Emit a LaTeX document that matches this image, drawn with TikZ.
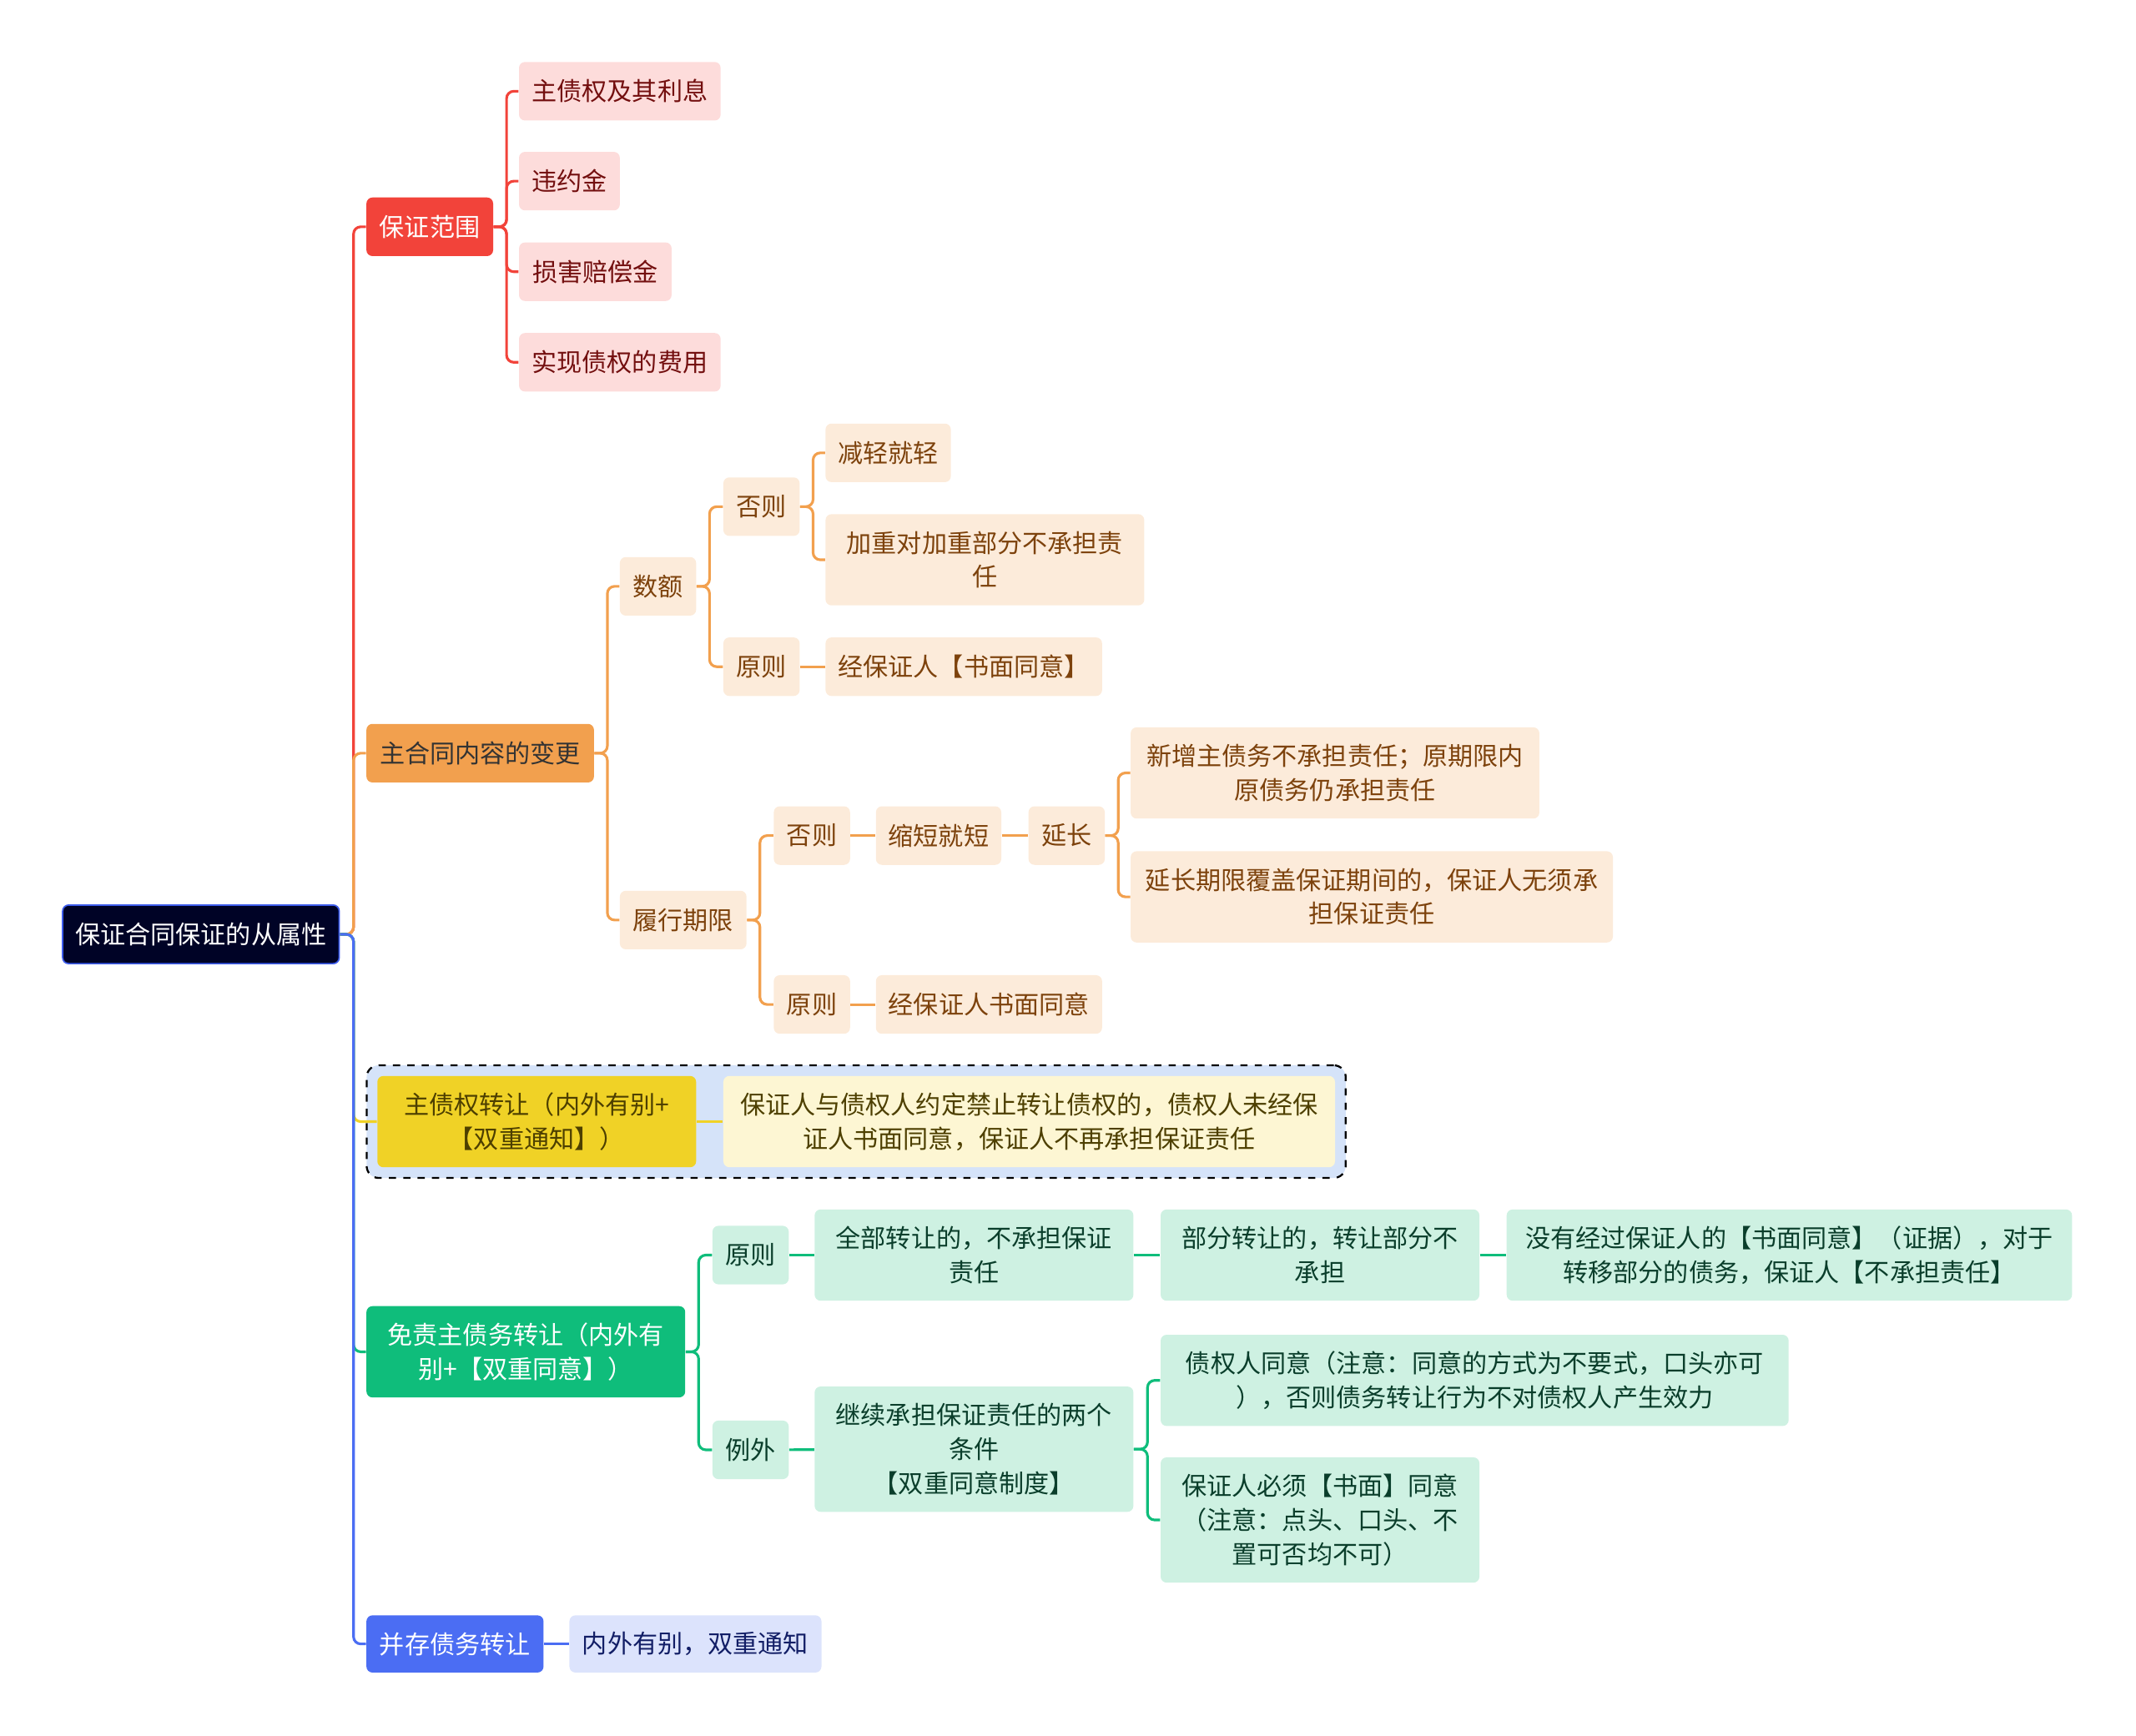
\documentclass[tikz,border=0pt]{standalone}
\usepackage{fontspec}
\setmainfont{Noto Sans CJK SC}
\definecolor{MapNavy}{HTML}{000326}
\definecolor{MapEdge}{HTML}{3D5CEB}
\definecolor{MapRed}{HTML}{F2433A}
\definecolor{MapRedLight}{HTML}{FDDCDB}
\definecolor{MapRedText}{HTML}{730F0F}
\definecolor{MapOrange}{HTML}{F2A04E}
\definecolor{MapOrangeLight}{HTML}{FCEBDA}
\definecolor{MapOrangeText}{HTML}{7D420C}
\definecolor{MapYellow}{HTML}{F0D226}
\definecolor{MapYellowLight}{HTML}{FDF6D3}
\definecolor{MapYellowText}{HTML}{4D3F00}
\definecolor{MapGroup}{HTML}{D5E3F9}
\definecolor{MapGreen}{HTML}{0FBD7B}
\definecolor{MapGreenLight}{HTML}{CEF1E2}
\definecolor{MapGreenText}{HTML}{0A3E2B}
\definecolor{MapBlue}{HTML}{4B6DF3}
\definecolor{MapBlueLight}{HTML}{DCE3FC}
\definecolor{MapBlueText}{HTML}{121E66}
\usetikzlibrary{positioning, calc, fit, backgrounds}
\tikzset{
    box/.style={
        fill=#1,
        rounded corners=2.5pt,
        minimum height=0.86cm,
        inner sep=2pt,
        align=center,
        font=\fontsize{10.5pt}{14.2pt}\selectfont
    },
    box/.default=MapRedLight,
    rootbox/.style={
        box=MapNavy,
        draw=MapEdge,
        line width=0.6pt,
        text=white
    },
    redsub/.style={box=MapRedLight, text=MapRedText},
    orangesub/.style={box=MapOrangeLight, text=MapOrangeText},
    greensub/.style={box=MapGreenLight, text=MapGreenText},
    tall/.style={minimum height=1.34cm},
    taller/.style={minimum height=1.84cm},
    link/.style={
        line width=1.1pt,
        rounded corners=3pt,
        #1
    },
    group/.style={
        draw=black,
        dashed,
        line width=0.8pt,
        fill=MapGroup,
        rounded corners=5pt,
        inner sep=0.15cm
    }
}
\begin{document}
\begin{tikzpicture}
    \useasboundingbox (0,0) rectangle (31.36,-25.49);
    % Root
    \node[rootbox, minimum width=4.06cm] (root) at (2.95,-13.72) {保证合同保证的从属性};
    \coordinate (rootj) at ($(root.east)+(0.2,0)$);

    % Guarantee range
    \node[box=MapRed, text=white, minimum width=1.86cm] (range) at (6.31,-3.33) {保证范围};
    \node[redsub, minimum width=2.96cm] (interest) at (9.10,-1.34) {主债权及其利息};
    \node[redsub, minimum width=1.48cm] (penalty) at (8.36,-2.66) {违约金};
    \node[redsub, minimum width=2.24cm] (damage) at (8.74,-3.99) {损害赔偿金};
    \node[redsub, minimum width=2.96cm] (costs) at (9.10,-5.32) {实现债权的费用};
    \coordinate (rangej) at ($(range.east)+(0.19,0)$);

    \draw[link=MapRed] (root.east) -- (rootj) |- (range.west);
    \draw[link=MapRed] (range.east) -- (rangej) |- (interest.west);
    \draw[link=MapRed] (range.east) -- (rangej) |- (penalty.west);
    \draw[link=MapRed] (range.east) -- (rangej) |- (damage.west);
    \draw[link=MapRed] (range.east) -- (rangej) |- (costs.west);

    % Change of the main contract
    \node[box=MapOrange, text=black!80, minimum width=3.34cm] (change) at (7.05,-11.06) {主合同内容的变更};
    \node[orangesub, minimum width=1.12cm] (amount) at (9.66,-8.61) {数额};
    \node[orangesub, minimum width=1.12cm] (amtelse) at (11.18,-7.44) {否则};
    \node[orangesub, minimum width=1.84cm] (lighter) at (13.04,-6.65) {减轻就轻};
    \node[orangesub, tall, minimum width=4.68cm] (heavier) at (14.46,-8.22) {加重对加重部分不承担责\\任};
    \node[orangesub, minimum width=1.12cm] (amtrule) at (11.18,-9.79) {原则};
    \node[orangesub, minimum width=4.06cm] (amtconsent) at (14.15,-9.79) {经保证人【书面同意】};
    \node[orangesub, minimum width=1.86cm] (term) at (10.03,-13.51) {履行期限};
    \node[orangesub, minimum width=1.12cm] (termelse) at (11.92,-12.27) {否则};
    \node[orangesub, minimum width=1.84cm] (shorter) at (13.78,-12.27) {缩短就短};
    \node[orangesub, minimum width=1.12cm] (longer) at (15.66,-12.27) {延长};
    \node[orangesub, tall, minimum width=6.00cm] (newdebt) at (19.60,-11.35) {新增主债务不承担责任；原期限内\\原债务仍承担责任};
    \node[orangesub, tall, minimum width=7.08cm] (cover) at (20.14,-13.17) {延长期限覆盖保证期间的，保证人无须承\\担保证责任};
    \node[orangesub, minimum width=1.12cm] (termrule) at (11.92,-14.75) {原则};
    \node[orangesub, minimum width=3.32cm] (termconsent) at (14.52,-14.75) {经保证人书面同意};
    \coordinate (changej) at ($(change.east)+(0.19,0)$);
    \coordinate (amountj) at ($(amount.east)+(0.19,0)$);
    \coordinate (amtelsej) at ($(amtelse.east)+(0.19,0)$);
    \coordinate (termj) at ($(term.east)+(0.19,0)$);
    \coordinate (longerj) at ($(longer.east)+(0.19,0)$);

    \draw[link=MapOrange] (root.east) -- (rootj) |- (change.west);
    \draw[link=MapOrange] (change.east) -- (changej) |- (amount.west);
    \draw[link=MapOrange] (change.east) -- (changej) |- (term.west);
    \draw[link=MapOrange] (amount.east) -- (amountj) |- (amtelse.west);
    \draw[link=MapOrange] (amount.east) -- (amountj) |- (amtrule.west);
    \draw[link=MapOrange] (amtelse.east) -- (amtelsej) |- (lighter.west);
    \draw[link=MapOrange] (amtelse.east) -- (amtelsej) |- (heavier.west);
    \draw[link=MapOrange] (amtrule) -- (amtconsent);
    \draw[link=MapOrange] (term.east) -- (termj) |- (termelse.west);
    \draw[link=MapOrange] (term.east) -- (termj) |- (termrule.west);
    \draw[link=MapOrange] (termelse) -- (shorter);
    \draw[link=MapOrange] (shorter) -- (longer);
    \draw[link=MapOrange] (longer.east) -- (longerj) |- (newdebt.west);
    \draw[link=MapOrange] (longer.east) -- (longerj) |- (cover.west);
    \draw[link=MapOrange] (termrule) -- (termconsent);

    % Transfer of the main claim
    \node[box=MapYellow, text=MapYellowText, tall, minimum width=4.68cm] (transfer) at (7.88,-16.47) {主债权转让（内外有别+\\【双重通知】）};
    \node[box=MapYellowLight, text=MapYellowText, tall, minimum width=8.98cm] (ban) at (15.11,-16.47) {保证人与债权人约定禁止转让债权的，债权人未经保\\证人书面同意，保证人不再承担保证责任};
    \begin{scope}[on background layer]
        \node[group, fit=(transfer)(ban)] (transgroup) {};
    \end{scope}

    \draw[link=MapYellow] (root.east) -- (rootj) |- (transfer.west);
    \draw[link=MapYellow] (transfer) -- (ban);

    % Release by debt transfer
    \node[box=MapGreen, text=white, tall, minimum width=4.68cm] (release) at (7.72,-19.85) {免责主债务转让（内外有\\别+【双重同意】）};
    \node[greensub, minimum width=1.12cm] (relrule) at (11.02,-18.43) {原则};
    \node[greensub, tall, minimum width=4.68cm] (whole) at (14.30,-18.43) {全部转让的，不承担保证\\责任};
    \node[greensub, tall, minimum width=4.68cm] (part) at (19.38,-18.43) {部分转让的，转让部分不\\承担};
    \node[greensub, tall, minimum width=8.30cm] (nowritten) at (26.27,-18.43) {没有经过保证人的【书面同意】（证据），对于\\转移部分的债务，保证人【不承担责任】};
    \node[greensub, minimum width=1.12cm] (relexcept) at (11.02,-21.29) {例外};
    \node[greensub, taller, minimum width=4.68cm] (twocond) at (14.30,-21.28) {继续承担保证责任的两个\\条件\\【双重同意制度】};
    \node[greensub, tall, minimum width=9.22cm] (creditor) at (21.65,-20.27) {债权人同意（注意：同意的方式为不要式，口头亦可\\），否则债务转让行为不对债权人产生效力};
    \node[greensub, taller, minimum width=4.68cm] (guarantor) at (19.38,-22.32) {保证人必须【书面】同意\\（注意：点头、口头、不\\置可否均不可）};
    \coordinate (releasej) at ($(release.east)+(0.19,0)$);
    \coordinate (twocondj) at ($(twocond.east)+(0.2,0)$);

    \draw[link=MapGreen] (root.east) -- (rootj) |- (release.west);
    \draw[link=MapGreen] (release.east) -- (releasej) |- (relrule.west);
    \draw[link=MapGreen] (release.east) -- (releasej) |- (relexcept.west);
    \draw[link=MapGreen] (relrule) -- (whole);
    \draw[link=MapGreen] (whole) -- (part);
    \draw[link=MapGreen] (part) -- (nowritten);
    \draw[link=MapGreen] (relexcept) -- (twocond);
    \draw[link=MapGreen] (twocond.east) -- (twocondj) |- (creditor.west);
    \draw[link=MapGreen] (twocond.east) -- (twocondj) |- (guarantor.west);

    % Joint debt transfer
    \node[box=MapBlue, text=white, minimum width=2.60cm, minimum height=0.84cm] (joint) at (6.68,-24.14) {并存债务转让};
    \node[box=MapBlueLight, text=MapBlueText, minimum width=3.70cm, minimum height=0.84cm] (notice) at (10.21,-24.14) {内外有别，双重通知};

    \draw[link=MapBlue] (root.east) -- (rootj) |- (joint.west);
    \draw[link=MapBlue] (joint) -- (notice);
\end{tikzpicture}
\end{document}
